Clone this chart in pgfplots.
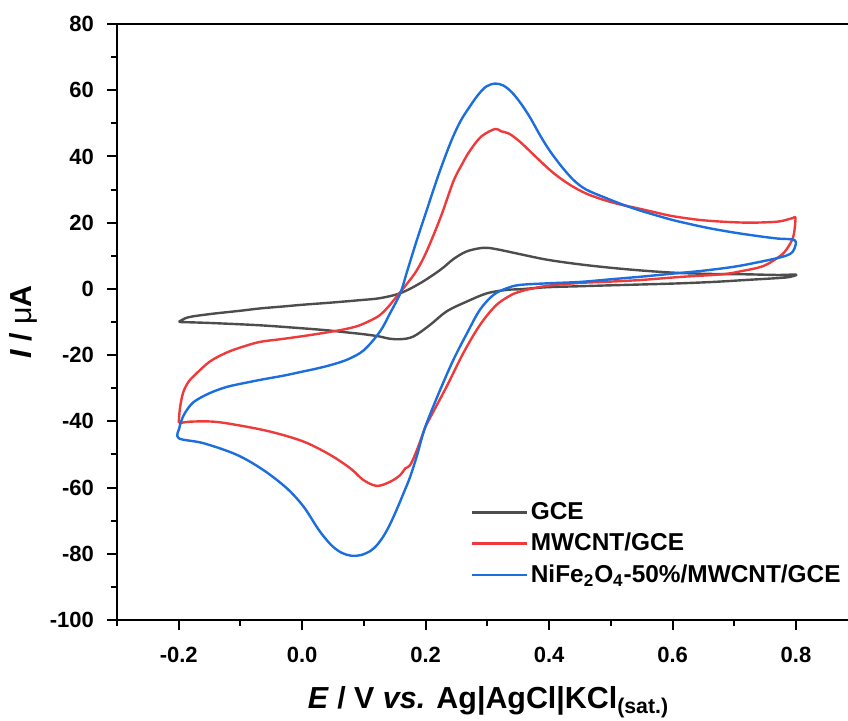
\documentclass[border=0pt]{standalone}
\usepackage{fontspec}
\setmainfont{Liberation Sans}
\usepackage{pgfplots}
\pgfplotsset{compat=1.18}
\definecolor{cgray}{RGB}{77,77,77}
\definecolor{cred}{RGB}{238,58,58}
\definecolor{cblue}{RGB}{28,110,222}
\begin{document}
\begin{tikzpicture}
\begin{axis}[
  scale only axis, width=365.5pt, height=298pt,
  xmin=-0.3, xmax=0.8842, ymin=-100, ymax=80,
  axis x line=bottom, axis y line=left,
  axis line style={-, line width=1pt},
  tick align=outside,
  major tick length=5pt, minor tick length=3pt,
  every tick/.style={black, line width=1pt},
  xtick={-0.2,0,0.2,0.4,0.6,0.8},
  minor xtick={-0.3,-0.1,0.1,0.3,0.5,0.7},
  ytick={-100,-80,-60,-40,-20,0,20,40,60,80},
  minor ytick={-90,-70,-50,-30,-10,10,30,50,70},
  /pgf/number format/assume math mode=true,
  tick label style={font=\fontsize{11}{13}\selectfont\bfseries},
  xticklabel style={yshift=-5pt, /pgf/number format/.cd, fixed, fixed zerofill, precision=1},
  yticklabel style={xshift=-3pt, /pgf/number format/.cd, fixed, precision=0},
  every axis x label/.style={at={(rel axis cs:0.5,0)}, anchor=base, yshift=-44pt, xshift=3pt},
  every axis y label/.style={at={(rel axis cs:0,0.5)}, rotate=90, anchor=center, yshift=47pt},
  label style={font=\fontsize{15.2}{17}\selectfont\bfseries},
  xlabel={\textit{E} / V \textit{vs.} Ag|AgCl|KCl\textsubscript{(sat.)}},
  ylabel={\textit{I} / {\mdseries μ}A},
  legend style={at={(rel axis cs:0.483,0.203)}, anchor=north west, draw=none, fill=none,
    font=\fontsize{12.2}{14}\selectfont\bfseries, inner sep=0pt, row sep=2.4pt,
    nodes={inner sep=1.5pt}},
  legend cell align=left,
  legend image code/.code={\draw[#1] (0pt,0pt) -- (27.5pt,0pt);},
  every axis plot/.append style={line width=1.2pt, line join=round, smooth, tension=0.55},
]
\addplot[cgray] coordinates {
(-0.200,-10.0) (-0.185,-8.6) (-0.149,-7.6) (-0.100,-6.6) (-0.068,-5.9) (-0.030,-5.3)
(0.000,-4.8) (0.050,-4.1) (0.094,-3.4) (0.126,-2.8) (0.159,-1.3) (0.191,1.7)
(0.2235,5.7) (0.245,9.0) (0.265,11.2) (0.285,12.2)
(0.300,12.4) (0.320,11.8) (0.350,10.6) (0.397,8.8) (0.450,7.4) (0.504,6.3)
(0.560,5.4) (0.612,4.8) (0.666,4.5) (0.720,4.4) (0.770,4.2) (0.800,4.3)
(0.790,3.6) (0.774,3.3) (0.720,2.7) (0.666,2.1) (0.600,1.6) (0.504,1.1)
(0.450,0.8) (0.397,0.5) (0.353,-0.1) (0.332,-0.3) (0.300,-1.3) (0.267,-3.8)
(0.234,-6.8) (0.207,-10.9) (0.180,-14.4) (0.159,-15.2) (0.140,-15.0) (0.126,-14.4)
(0.100,-13.7) (0.070,-13.1) (0.040,-12.5) (0.000,-11.9) (-0.068,-11.0)
(-0.149,-10.3) (-0.200,-10.0)
};
\addlegendentry{GCE}
\addplot[cred] coordinates {
(-0.200,-40.5) (-0.198,-36.0) (-0.193,-31.4) (-0.185,-28.3) (-0.176,-26.4) (-0.150,-22.0)
(-0.122,-19.2) (-0.095,-17.4) (-0.068,-16.0) (-0.035,-15.2) (0.000,-14.3) (0.035,-13.3)
(0.066,-12.3) (0.090,-11.2) (0.110,-9.6) (0.126,-7.9) (0.140,-5.3) (0.153,-2.3)
(0.170,1.6) (0.186,5.7) (0.202,11.5) (0.225,22.0) (0.245,32.5) (0.260,38.0)
(0.272,41.8) (0.290,46.0) (0.3125,48.3) (0.322,47.6) (0.335,46.9) (0.353,44.4)
(0.380,39.6) (0.407,35.0) (0.434,31.4) (0.460,28.8) (0.488,26.9) (0.515,25.5)
(0.542,24.4) (0.570,23.2) (0.596,22.1) (0.620,21.4) (0.645,20.8) (0.680,20.3)
(0.720,20.0) (0.750,20.1) (0.774,20.4) (0.795,21.4) (0.799,21.6)
(0.798,18.5) (0.795,15.4) (0.785,12.0) (0.774,9.9) (0.747,6.9) (0.710,5.3)
(0.680,4.4) (0.612,3.6) (0.550,2.7) (0.500,2.2) (0.450,1.8) (0.400,1.0)
(0.370,0.0) (0.353,-0.8) (0.342,-1.5) (0.315,-4.8) (0.288,-10.9) (0.261,-19.4)
(0.234,-29.5) (0.207,-39.0) (0.199,-42.0) (0.186,-48.6) (0.175,-53.2) (0.167,-54.2)
(0.159,-56.2) (0.143,-58.2) (0.121,-59.5) (0.099,-57.7) (0.078,-54.2) (0.045,-50.1)
(0.002,-46.1) (-0.052,-43.1) (-0.106,-41.1) (-0.144,-40.1) (-0.181,-40.1) (-0.200,-40.6)
};
\addlegendentry{MWCNT/GCE}
\addplot[cblue] coordinates {
(0.000,-25.0) (0.025,-24.0) (0.050,-22.8) (0.075,-21.2) (0.100,-18.5) (0.126,-12.9)
(0.1425,-7.3) (0.159,-1.3) (0.1695,5.0) (0.185,14.3) (0.202,23.9) (0.220,34.0)
(0.240,44.0) (0.256,50.5) (0.272,55.2) (0.285,58.6) (0.298,61.1) (0.3125,62.0)
(0.326,61.4) (0.340,59.3) (0.355,55.8) (0.370,51.5) (0.385,46.5) (0.400,42.0)
(0.420,37.0) (0.440,32.8) (0.460,30.0) (0.490,27.6) (0.520,25.4) (0.545,23.8)
(0.570,22.4) (0.600,20.8) (0.630,19.5) (0.660,18.3) (0.700,17.0) (0.740,15.9)
(0.770,15.2) (0.798,14.7)
(0.797,12.0) (0.790,10.5) (0.774,9.5) (0.740,8.1) (0.700,6.7) (0.650,5.5)
(0.600,4.6) (0.550,3.7) (0.500,2.9) (0.450,2.1) (0.400,1.7) (0.353,1.2)
(0.3315,0.2) (0.310,-1.8) (0.288,-6.3) (0.267,-13.4) (0.245,-21.4) (0.2235,-30.5)
(0.2046,-39.1) (0.196,-43.6) (0.186,-50.3) (0.175,-56.7) (0.164,-61.8) (0.153,-66.7)
(0.142,-71.2) (0.132,-74.6) (0.121,-77.4) (0.110,-79.2) (0.095,-80.4) (0.080,-80.6)
(0.065,-79.8) (0.050,-77.9) (0.035,-74.8) (0.024,-72.0) (0.002,-65.7) (-0.025,-60.2)
(-0.063,-54.7) (-0.106,-50.1) (-0.160,-46.6) (-0.200,-45.1)
(-0.199,-42.0) (-0.196,-40.0) (-0.190,-37.5) (-0.176,-34.2) (-0.150,-31.5) (-0.122,-29.6)
(-0.090,-28.3) (-0.060,-27.2) (-0.030,-26.2) (0.000,-25.0)
};
\addlegendentry{NiFe\textsubscript{2}O\textsubscript{4}-50\%/MWCNT/GCE}
\coordinate (SW) at (rel axis cs:0,0);
\coordinate (NE) at (rel axis cs:1,1);
\end{axis}
\draw[line width=1pt] (SW |- NE) -- (NE);
\pgfresetboundingbox
\path ([xshift=-58.5pt,yshift=-50pt]SW) rectangle ([yshift=12pt]NE);
\end{tikzpicture}
\end{document}
